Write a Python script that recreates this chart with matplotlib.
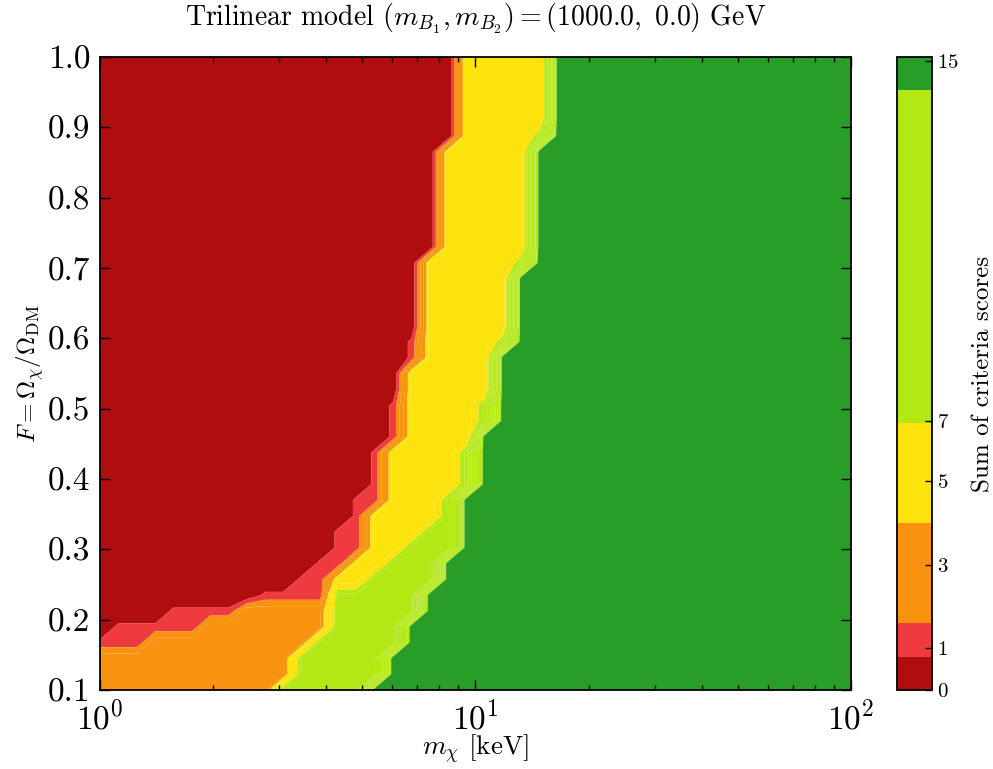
import numpy as np
import matplotlib
matplotlib.use("Agg")
import matplotlib.pyplot as plt

plt.rcParams.update({
    "font.family": "serif",
    "font.serif": ["cmr10"],
    "mathtext.fontset": "cm",
    "axes.unicode_minus": False,
    "axes.formatter.use_mathtext": True,
})

# Sampling grid of the scan
mass_keV = np.logspace(0, 2, 42)          # m_chi [keV]
frac_F = np.linspace(0.1, 1.0, 41)        # F = Omega_chi / Omega_DM

# For every F row: first mass index at which each criterion is satisfied
crit_a = [0, 0, 0, 0, 1, 4, 9, 11, 12, 13, 13, 14, 14, 15, 15, 15, 16, 16, 16, 17, 17,
          17, 17, 18, 18, 18, 18, 18, 19, 19, 19, 19, 19, 19, 19, 20, 20, 20, 20, 20, 20]
crit_b = [0, 0, 0, 3, 6, 8, 13, 13, 14, 15, 15, 15, 16, 16, 16, 16, 17, 17, 17, 17, 17,
          18, 18, 18, 18, 18, 18, 18, 19, 19, 19, 19, 19, 19, 19, 20, 20, 20, 20, 20, 20]
crit_c = [10, 11, 11, 12, 13, 13, 13, 13, 14, 15, 15, 15, 16, 16, 16, 16, 17, 17, 17, 17, 17,
          18, 18, 18, 18, 18, 18, 18, 19, 19, 19, 19, 19, 19, 19, 20, 20, 20, 20, 20, 20]
crit_d = [10, 11, 11, 12, 13, 13, 13, 15, 16, 17, 18, 19, 19, 20, 20, 20, 21, 21, 21, 22, 22,
          22, 22, 23, 23, 23, 23, 23, 24, 24, 24, 24, 24, 24, 24, 24, 25, 25, 25, 25, 25]
crit_e = [15, 16, 16, 17, 17, 18, 18, 19, 19, 20, 20, 20, 20, 21, 21, 21, 21, 22, 22, 22, 22,
          22, 23, 23, 23, 23, 23, 24, 24, 24, 24, 24, 24, 24, 24, 25, 25, 25, 25, 25, 25]
crit_weights = [1, 2, 2, 3, 7]

# Contour levels and colours of the score map
levels = [0, 0.8, 1.6, 2.4, 3.2, 4.0, 4.7, 5.8, 6.95, 7.68, 8.41, 9.14, 9.87,
          10.6, 11.33, 12.06, 12.79, 13.52, 14.25, 15.1]
c_darkred, c_red, c_orange = "#B00D0F", "#EF3B3F", "#F8920F"
c_yellow, c_lgreen, c_green = "#FCE30E", "#B3E814", "#289E28"
level_colors = ([c_darkred, c_red] + [c_orange] * 3 + [c_yellow] * 3
                + [c_lgreen] * 10 + [c_green])
cbar_ticks = [0, 1, 3, 5, 7, 15]

# Total score on the grid
jj = np.arange(mass_keV.size)[None, :]
score = np.zeros((frac_F.size, mass_keV.size))
for w, crit in zip(crit_weights, [crit_a, crit_b, crit_c, crit_d, crit_e]):
    score += w * (jj >= np.asarray(crit)[:, None])

fig = plt.figure(figsize=(9.93, 7.69), dpi=100)
ax = fig.add_axes([100 / 993, 79 / 769, 751 / 993, 633 / 769])
cax = fig.add_axes([897 / 993, 79 / 769, 35 / 993, 633 / 769])

cs = ax.contourf(mass_keV, frac_F, score, levels=levels, colors=level_colors,
                 antialiased=True)
ax.set_xscale("log")
ax.set_xlim(1, 100)
ax.set_ylim(0.1, 1.0)
ax.set_yticks(np.arange(0.1, 1.01, 0.1))
ax.set_yticklabels([f"{v:.1f}" for v in np.arange(0.1, 1.01, 0.1)])
ax.tick_params(which="both", direction="in", top=True, right=True, labelsize=24,
               width=1.0, pad=7)
ax.tick_params(which="major", length=7)
ax.tick_params(which="minor", length=3.5)
for s in ax.spines.values():
    s.set_linewidth(1.3)

ax.set_xlabel(r"$m_\chi$ [keV]", fontsize=19.5)
ax.xaxis.set_label_coords(0.5, -0.068)
ax.set_ylabel(r"$F=\Omega_\chi/\Omega_{\rm DM}$", fontsize=18)
ax.yaxis.set_label_coords(-0.072, 0.5)
ax.set_title(r"Trilinear model $(m_{B_1},m_{B_2})=(1000.0,\ 0.0)$ GeV",
             fontsize=20, pad=22)

cbar = fig.colorbar(cs, cax=cax, ticks=cbar_ticks)
cbar.ax.tick_params(direction="in", length=5, labelsize=15, width=1.0)
cbar.outline.set_linewidth(1.3)
cbar.set_label("Sum of criteria scores", fontsize=18, labelpad=10)

fig.savefig("out.png", dpi=100)
